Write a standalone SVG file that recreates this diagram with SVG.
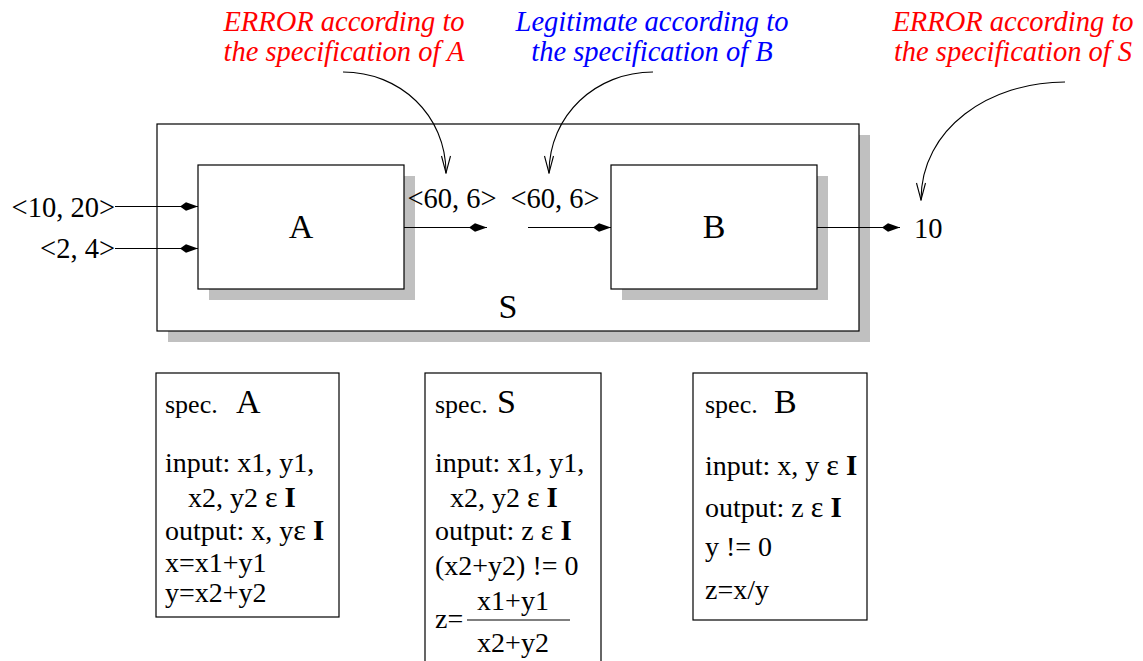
<svg xmlns="http://www.w3.org/2000/svg" width="1143" height="661" viewBox="0 0 1143 661">
  <style>
    text { font-family: "Liberation Serif", "Times New Roman", serif; fill: #000; }
    .lbl { font-size: 28.5px; }
    .note { font-size: 28.5px; font-style: italic; text-anchor: middle; }
    .red { fill: #ff0000; }
    .blue { fill: #0000ff; }
    .big { font-size: 34px; }
    .spec { font-size: 26px; }
    .line { font-size: 28px; }
    .eps { font-size: 30px; }
    .set { font-weight: bold; font-size: 29px; }
    .box { fill: #fff; stroke: #000; stroke-width: 1.2; }
    .shadow { fill: #c0c0c0; stroke: none; }
    .card { fill: #fff; stroke: #000; stroke-width: 1.2; }
    .flow { stroke: #000; stroke-width: 1.2; fill: none; marker-end: url(#dart); }
    .hint { stroke: #000; stroke-width: 1.1; fill: none; marker-end: url(#vee); }
  </style>
  <defs>
    <marker id="dart" markerUnits="userSpaceOnUse" viewBox="-18 -5 19 10" refX="0" refY="0" markerWidth="19" markerHeight="10" orient="auto">
      <path d="M0,0 L-12,-4.2 L-18,0 L-12,4.2 Z" fill="#000"/>
    </marker>
    <marker id="vee" markerUnits="userSpaceOnUse" viewBox="-18 -6 19 12" refX="0" refY="0" markerWidth="19" markerHeight="12" orient="auto">
      <path d="M-17,-4.5 L0,0 L-17,4.5" fill="none" stroke="#000" stroke-width="1.1"/>
    </marker>
  </defs>

  <rect width="1143" height="661" fill="#fff"/>

  <!-- enclosing system S -->
  <g id="node-S">
    <rect class="shadow" x="168" y="135" width="702" height="207"/>
    <rect class="box" x="157" y="124" width="702" height="207"/>
    <text class="big" x="508" y="318" text-anchor="middle">S</text>
  </g>

  <!-- component A -->
  <g id="node-A">
    <rect class="shadow" x="209" y="176" width="206" height="124"/>
    <rect class="box" x="198" y="165" width="206" height="124"/>
    <text class="big" x="301" y="238" text-anchor="middle">A</text>
  </g>

  <!-- component B -->
  <g id="node-B">
    <rect class="shadow" x="622" y="176" width="206" height="124"/>
    <rect class="box" x="611" y="165" width="206" height="124"/>
    <text class="big" x="714" y="238" text-anchor="middle">B</text>
  </g>

  <!-- values on the wires -->
  <g id="values">
    <text class="lbl" x="115" y="217" text-anchor="end">&lt;10, 20&gt;</text>
    <text class="lbl" x="115" y="258" text-anchor="end">&lt;2, 4&gt;</text>
    <text class="lbl" x="452" y="208" text-anchor="middle">&lt;60, 6&gt;</text>
    <text class="lbl" x="555" y="208" text-anchor="middle">&lt;60, 6&gt;</text>
    <text class="lbl" x="914" y="238">10</text>
  </g>

  <!-- annotations -->
  <g id="note-A">
    <text class="note red" x="344" y="31">ERROR according to</text>
    <text class="note red" x="344" y="61">the specification of A</text>
  </g>
  <g id="note-B">
    <text class="note blue" x="652" y="31">Legitimate according to</text>
    <text class="note blue" x="652" y="61">the specification of B</text>
  </g>
  <g id="note-S">
    <text class="note red" x="1013" y="31">ERROR according to</text>
    <text class="note red" x="1013" y="61">the specification of S</text>
  </g>

  <!-- connectors -->
  <g id="connectors">
    <path class="flow" d="M115,206.5 H198"/>
    <path class="flow" d="M115,248.5 H198"/>
    <path class="flow" d="M404,227.5 H487"/>
    <path class="flow" d="M528,227.5 H611"/>
    <path class="flow" d="M817,227.5 H900"/>
    <path class="hint" d="M343,72 C400,72 446,115 446,173"/>
    <path class="hint" d="M653,72 C596,72 549,115 549,173"/>
    <path class="hint" d="M1065,82 C990,82 921,128 921,200"/>
  </g>

  <!-- specification cards -->
  <g id="spec-A">
    <rect class="card" x="156" y="373" width="183" height="244"/>
    <text x="165" y="413"><tspan class="spec">spec. </tspan><tspan class="big" x="236">A</tspan></text>
    <text class="line" x="165" y="472">input: x1, y1,</text>
    <text class="line" x="188" y="507">x2, y2 <tspan class="eps">ε</tspan> <tspan class="set">I</tspan></text>
    <text class="line" x="165" y="540">output: x, y<tspan class="eps">ε</tspan> <tspan class="set">I</tspan></text>
    <text class="line" x="165" y="572">x=x1+y1</text>
    <text class="line" x="165" y="602">y=x2+y2</text>
  </g>

  <g id="spec-S">
    <rect class="card" x="425" y="373" width="176" height="300"/>
    <text x="435" y="413"><tspan class="spec">spec. </tspan><tspan class="big" x="497">S</tspan></text>
    <text class="line" x="435" y="472">input: x1, y1,</text>
    <text class="line" x="450" y="507">x2, y2 <tspan class="eps">ε</tspan> <tspan class="set">I</tspan></text>
    <text class="line" x="435" y="540">output: z <tspan class="eps">ε</tspan> <tspan class="set">I</tspan></text>
    <text class="line" x="435" y="575">(x2+y2) != 0</text>
    <text class="line" x="435" y="628">z=</text>
    <text class="line" x="513" y="610" text-anchor="middle">x1+y1</text>
    <line x1="467" y1="620" x2="570" y2="620" stroke="#000" stroke-width="1.2"/>
    <text class="line" x="513" y="652" text-anchor="middle">x2+y2</text>
  </g>

  <g id="spec-B">
    <rect class="card" x="693" y="373" width="174" height="247"/>
    <text x="705" y="413"><tspan class="spec">spec. </tspan><tspan class="big" x="774">B</tspan></text>
    <text class="line" x="705" y="475">input: x, y <tspan class="eps">ε</tspan> <tspan class="set">I</tspan></text>
    <text class="line" x="705" y="517">output: z <tspan class="eps">ε</tspan> <tspan class="set">I</tspan></text>
    <text class="line" x="705" y="556">y != 0</text>
    <text class="line" x="705" y="599">z=x/y</text>
  </g>
</svg>
